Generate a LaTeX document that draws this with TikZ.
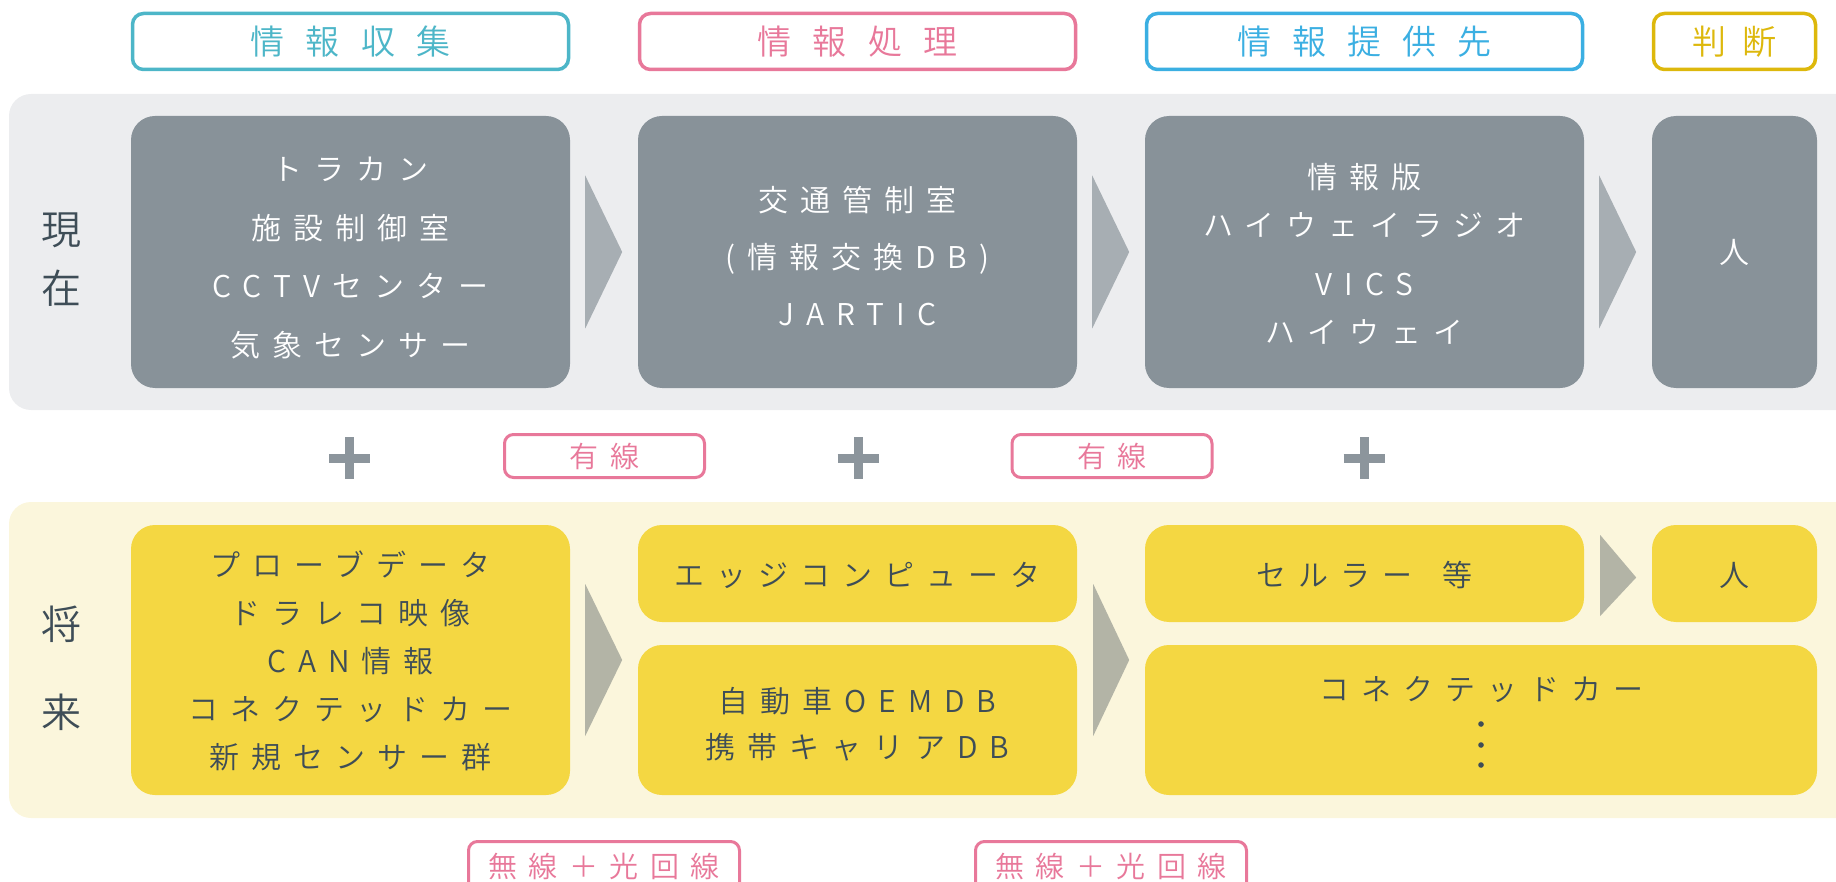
\documentclass[tikz,border=0pt]{standalone}
\usepackage{fontspec}
\setmainfont{Noto Sans CJK JP}[UprightFont={* DemiLight}]
\newfontfamily\jpbox[LetterSpace=40,UprightFont={* DemiLight}]{Noto Sans CJK JP}
\newfontfamily\jphead[LetterSpace=62,UprightFont={* DemiLight}]{Noto Sans CJK JP}
\newfontfamily\jphd[LetterSpace=45,UprightFont={* DemiLight}]{Noto Sans CJK JP}
\newfontfamily\jplab[LetterSpace=40,UprightFont={* DemiLight}]{Noto Sans CJK JP}
\usetikzlibrary{calc}
\definecolor{hteal}{HTML}{4DB6C8}
\definecolor{hpink}{HTML}{E8789A}
\definecolor{hblue}{HTML}{3BAFE2}
\definecolor{hgold}{HTML}{DDB80C}
\definecolor{panelgray}{HTML}{ECEDEF}
\definecolor{boxgray}{HTML}{889299}
\definecolor{arrowgray}{HTML}{A7AEB3}
\definecolor{panelyellow}{HTML}{FBF6DC}
\definecolor{boxyellow}{HTML}{F4D742}
\definecolor{arrowyellow}{HTML}{B3B4A6}
\definecolor{darktext}{HTML}{3E4D57}
\definecolor{plusgray}{HTML}{8C959C}
\tikzset{
 every node/.style={inner sep=0pt},
 head/.style={draw=#1, text=#1, fill=white, line width=3.5pt, rounded corners=11pt, minimum height=56pt, font=\jphead\fontsize{34pt}{34pt}\selectfont},
 gbox/.style={fill=boxgray, rounded corners=24pt},
 gtext/.style={text=white, align=center, font=\jpbox\fontsize{30pt}{58.5pt}\selectfont},
 ybox/.style={fill=boxyellow, rounded corners=24pt},
 ytext/.style={text=darktext, align=center, font=\jpbox\fontsize{30pt}{48pt}\selectfont},
 wire/.style={draw=hpink, text=hpink, fill=white, line width=3pt, rounded corners=9pt, font=\jplab\fontsize{29pt}{29pt}\selectfont},
 side/.style={text=darktext, align=center, font=\fontsize{40pt}{59pt}\selectfont},
 garrow/.style={fill=arrowgray},
 yarrow/.style={fill=arrowyellow},
 plusmark/.style={draw=plusgray, line width=9pt},
}
\begin{document}
\begin{tikzpicture}[x=1pt,y=-1pt]
\useasboundingbox (0,0) rectangle (1836,882);
% panels
\fill[panelgray, rounded corners=22pt] (9,94) rectangle (1880,410);
\fill[panelyellow, rounded corners=22pt] (9,502) rectangle (1880,818);
% headers
\node[head=hteal, minimum width=436pt] (h1) at (350.5,41.5) {情報収集};
\node[head=hpink, minimum width=436pt] (h2) at (857.5,41.5) {情報処理};
\node[head=hblue, minimum width=436pt] (h3) at (1364.5,41.5) {情報提供先};
\node[head=hgold, minimum width=162pt, font=\jphd\fontsize{34pt}{34pt}\selectfont] (h4) at (1734.5,41.5) {判断};
% side labels
\node[side] (now) at (61,260) {現\\在};
\node[side, font=\fontsize{40pt}{88pt}\selectfont] (future) at (61,668) {将\\来};
% current row
\node[gbox, minimum width=439pt, minimum height=272pt,
  label={[gtext, yshift=-6pt]center:{トラカン\\施設制御室\\CCTVセンター\\気象センサー}}] (g1) at (350.5,252) {};
\node[gbox, minimum width=439pt, minimum height=272pt,
  label={[gtext, yshift=-4pt, font=\jpbox\fontsize{30pt}{57pt}\selectfont]center:{交通管制室\\(情報交換DB)\\JARTIC}}] (g2) at (857.5,252) {};
\node[gbox, minimum width=439pt, minimum height=272pt,
  label={[gtext, yshift=-2pt, font=\jpbox\fontsize{30pt}{48pt}\selectfont]center:{情報版\\ハイウェイラジオ\\[11pt]VICS\\ハイウェイ}}] (g3) at (1364.5,252) {};
\node[gbox, minimum width=165pt, minimum height=272pt,
  label={[gtext]center:人}] (g4) at (1734.5,252) {};
\foreach \a/\b in {g1/g2,g2/g3,g3/g4}{
  \fill[garrow] ($(\a.east)+(15,-76.5)$) -- ($(\a.east)+(52,0)$) -- ($(\a.east)+(15,76.5)$) -- cycle;
}
% plus marks and wired labels
\foreach \px in {349.5,858,1364}{
  \draw[plusmark] (\px-20.5,458) -- (\px+20.5,458) (\px,437) -- (\px,479);
}
\node[wire, minimum width=200pt, minimum height=43pt] (w1) at (604.5,456) {有線};
\node[wire, minimum width=200pt, minimum height=43pt] (w2) at (1112,456) {有線};
% future row
\node[ybox, minimum width=439pt, minimum height=270pt,
  label={[ytext, yshift=-1pt]center:{プローブデータ\\ドラレコ映像\\CAN情報\\コネクテッドカー\\新規センサー群}}] (y1) at (350.5,660) {};
\node[ybox, minimum width=439pt, minimum height=97pt,
  label={[ytext, yshift=-2pt]center:エッジコンピュータ}] (edge) at (857.5,573.5) {};
\node[ybox, minimum width=439pt, minimum height=150pt,
  label={[ytext, yshift=-4pt, font=\jpbox\fontsize{30pt}{46pt}\selectfont]center:{自動車OEMDB\\携帯キャリアDB}}] (oem) at (857.5,720) {};
\node[ybox, minimum width=439pt, minimum height=97pt,
  label={[ytext, yshift=-2pt]center:{セルラー\hspace{12pt} 等}}] (cell) at (1364.5,573.5) {};
\node[ybox, minimum width=165pt, minimum height=97pt,
  label={[ytext, yshift=-2pt]center:人}] (person) at (1734.5,573.5) {};
\node[ybox, minimum width=672pt, minimum height=150pt,
  label={[ytext, yshift=30pt]center:コネクテッドカー}] (conn) at (1481,720) {};
\foreach \dy in {724,745,765}{
  \fill[darktext] (conn.center |- 0,\dy) circle (2.8pt);
}
\fill[yarrow] ($(y1.east)+(15,-76)$) -- ($(y1.east)+(52,0)$) -- ($(y1.east)+(15,76)$) -- cycle;
\fill[yarrow] ($(edge.east |- y1.east)+(16,-76)$) -- ($(edge.east |- y1.east)+(52,0)$) -- ($(edge.east |- y1.east)+(16,76)$) -- cycle;
\fill[yarrow] ($(cell.east)+(16,-38.5)$) -- ($(cell.east)+(52,4)$) -- ($(cell.east)+(16,42.5)$) -- cycle;
% wireless labels
\node[wire, minimum width=271pt, minimum height=50pt] (wl1) at (604,866.5) {無線＋光回線};
\node[wire, minimum width=271pt, minimum height=50pt] (wl2) at (1111,866.5) {無線＋光回線};
\end{tikzpicture}
\end{document}
